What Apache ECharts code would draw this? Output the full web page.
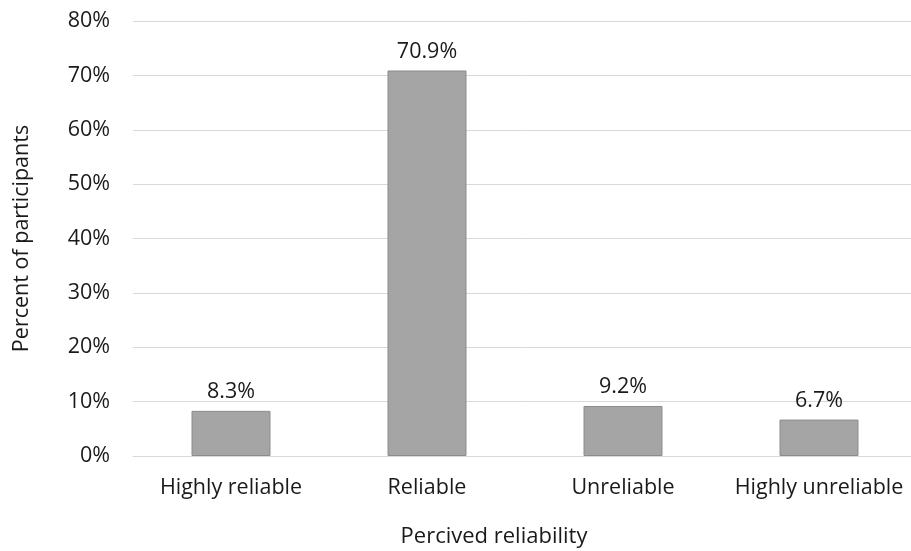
<!DOCTYPE html>
<html>
<head>
<meta charset="utf-8">
<script src="https://cdn.jsdelivr.net/npm/echarts@6/dist/echarts.min.js"></script>
<style>
  html, body { margin: 0; padding: 0; background: #fff; }
  #chart { width: 911px; height: 551px; }
</style>
</head>
<body>
<div id="chart"></div>
<script>
// Perceived reliability survey results
const categories = ['Highly reliable', 'Reliable', 'Unreliable', 'Highly unreliable'];
const percentValues = [8.3, 70.9, 9.2, 6.7];
const yTicks = { min: 0, max: 80, interval: 10 };

const FONT = '"Open Sans", "Noto Sans", sans-serif';
const TEXT = '#1a1a1a';
const chart = echarts.init(document.getElementById('chart'), null, { renderer: 'canvas' });

chart.setOption({
  animation: false,
  grid: { left: 133, top: 21, width: 784, height: 435, containLabel: false, outerBoundsMode: 'none' },
  xAxis: {
    type: 'category',
    data: categories,
    name: 'Percived reliability',
    nameLocation: 'middle',
    nameGap: 70,
    nameTextStyle: { fontFamily: FONT, fontSize: 22, color: TEXT, padding: [0, 62, 0, 0] },
    axisLine: { show: true, lineStyle: { color: '#d9d9d9', width: 1 } },
    axisTick: { show: false },
    axisLabel: { interval: 0, hideOverlap: false, fontFamily: FONT, fontSize: 21.5, color: TEXT, margin: 21 }
  },
  yAxis: {
    type: 'value',
    min: yTicks.min,
    max: yTicks.max,
    interval: yTicks.interval,
    name: 'Percent of participants',
    nameLocation: 'middle',
    nameGap: 100,
    nameRotate: 90,
    nameTextStyle: { fontFamily: FONT, fontSize: 21.5, color: TEXT },
    axisLine: { show: false },
    axisTick: { show: false },
    axisLabel: { fontFamily: FONT, fontSize: 21.5, color: TEXT, margin: 23, formatter: '{value}%' },
    splitLine: { lineStyle: { color: '#d9d9d9', width: 1 } }
  },
  series: [{
    type: 'bar',
    data: percentValues,
    barWidth: 79,
    itemStyle: { color: '#a5a5a5', borderColor: '#8c8c8c', borderWidth: 1 },
    label: {
      show: true,
      position: 'top',
      distance: 8,
      fontFamily: FONT,
      fontSize: 21.5,
      color: TEXT,
      formatter: p => p.value.toFixed(1) + '%'
    }
  }]
});
</script>
</body>
</html>
